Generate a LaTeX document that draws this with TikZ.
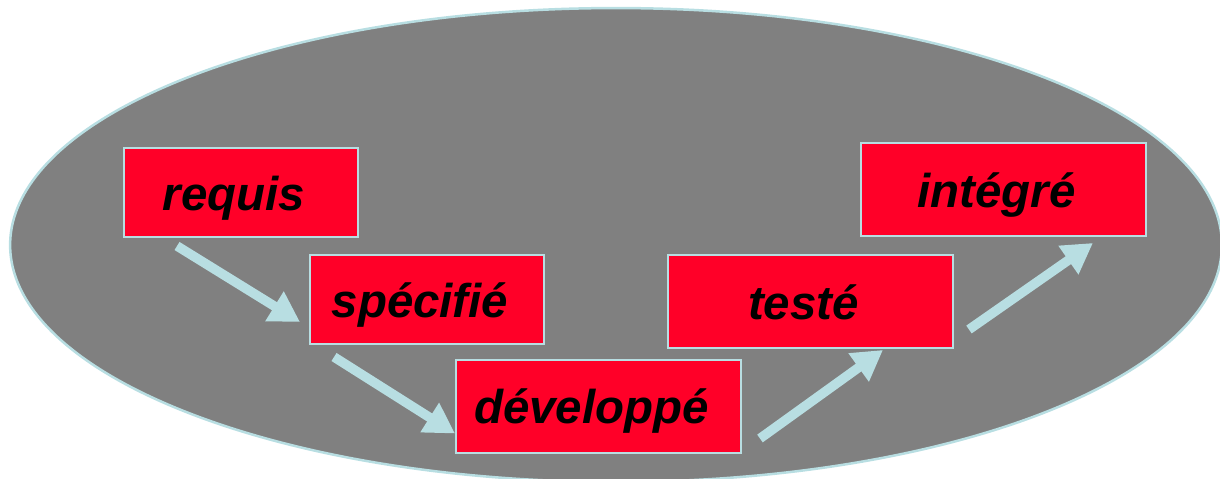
\documentclass[tikz,border=0pt]{standalone}
\usepackage{fontspec}
\setmainfont{Liberation Sans}
\usepackage{xcolor}
\usetikzlibrary{arrows.meta,calc}
\definecolor{pale}{HTML}{B8DEE2}
\definecolor{stage}{HTML}{FF0028}
\definecolor{back}{HTML}{808080}

\begin{document}
\begin{tikzpicture}[x=0.02cm,y=-0.02cm,
  box/.style={draw=pale,line width=0.04cm,fill=stage,minimum width=5.7cm,minimum height=1.86cm,
    text height=0.9cm,text depth=0.2cm,execute at begin node={\kern-0.28cm},
    font=\fontsize{27}{30}\selectfont\bfseries\itshape},
  flow/.style={draw=pale,line width=0.19cm,-{Triangle[length=0.6cm,width=0.66cm]}}
]
  \useasboundingbox (0,0) rectangle (1220,478);
  \clip (0,0) rectangle (1220,478);
  \filldraw[fill=back,draw=pale,line width=0.05cm] (616,245) ellipse [x radius=12.12cm,y radius=4.74cm];
  \node[box,minimum width=4.68cm,minimum height=1.78cm] (req)  at (241,192.5) {requis};
  \node[box,minimum width=4.68cm,minimum height=1.78cm] (spec) at (427,299.5) {spécifié};
  \node[box] (dev)  at (598.5,406) {développé};
  \node[box] (test) at (810.5,301.5) {testé};
  \node[box] (integ) at (1003.5,189.5) {intégré};
  \draw[flow] ($(req.south west)+(54,8)$) -- ($(spec.south west)+(-9,-23)$);
  \draw[flow] ($(spec.south west)+(25,12)$) -- ($(dev.south west)+(0,-20)$);
  \draw[flow] ($(dev.south east)+(18,-15)$) -- ($(test.south east)+(-71,1)$);
  \draw[flow] ($(test.east)+(15,28)$) -- ($(integ.south east)+(-54,6)$);
\end{tikzpicture}
\end{document}
